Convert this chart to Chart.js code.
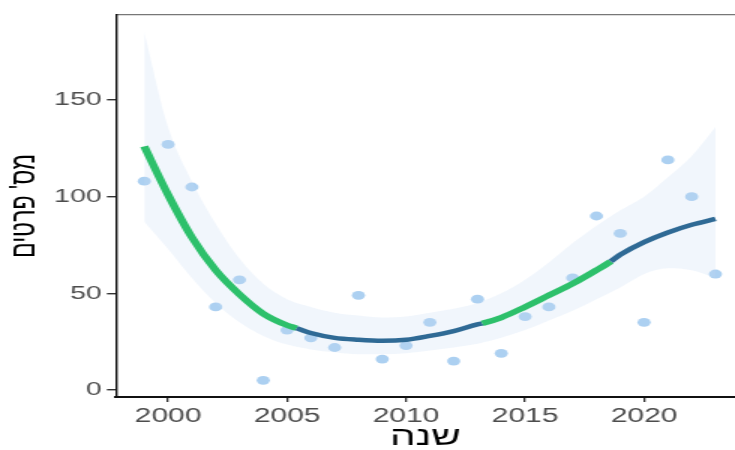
<!DOCTYPE html>
<html>
<head>
<meta charset="utf-8">
<script src="https://cdn.jsdelivr.net/npm/chart.js@4"></script>
<style>
  html, body { margin: 0; padding: 0; background: #fff; overflow: hidden; }
  #wrap { width: 490px; height: 450px; transform: scale(1.5, 1); transform-origin: 0 0; }
</style>
</head>
<body>
<div id="wrap"><canvas id="c" width="490" height="450"></canvas></div>
<script>
// ---- data ----
const years = [1999,2000,2001,2002,2003,2004,2005,2006,2007,2008,2009,2010,2011,2012,2013,2014,2015,2016,2017,2018,2019,2020,2021,2022,2023];
const counts = [108,127,105,43,57,5,31,27,22,49,16,23,35,15,47,19,38,43,58,90,81,35,119,100,60];

const fitYears  = [1999,2000,2001,2002,2003,2004,2005,2005.4,2006,2007,2008,2009,2010,2011,2012,2013,2013.2,2014,2015,2016,2017,2018,2018.6,2019,2020,2021,2022,2023];
const fitValues = [126,101,79,62,49.5,39.5,33.5,32,29.5,27,26,25.5,26,28,30.5,34,34.5,37.5,43,49,55,62,66.5,70,76.5,81.5,85.5,88.5];

const bandUpper = [185,136,108,86,68,55,47,43,40,38.5,37.5,38,40,42,45,50,57,66,76,85,93,100,110,121,136];
const bandLower = [87,73,58,45,35,28,23.5,21,19.5,18.5,18.5,19,20.5,22,24,27,31,36,41,47,53,60,63,62,58];

const segmentBreaks = [2005.4, 2013.2, 2018.6];
const segmentColors = ['#2dc06b', '#2f6a95', '#2dc06b', '#2f6a95'];
const segmentWidths = [5.5, 4.5, 5.5, 4.5];

const xTickValues = [2000, 2005, 2010, 2015, 2020];
const yTickValues = [0, 50, 100, 150];
const xTitle = 'שנה';
const yTitle = "מס' פרטים";

// ---- build chart ----
const toXY = (xs, ys) => xs.map((x, i) => ({ x: x, y: ys[i] }));
const segIndex = x => segmentBreaks.filter(b => x >= b - 1e-9).length;

const FONT = "'Liberation Sans', Arial, 'DejaVu Sans', sans-serif";
const X_MIN = 1997.81, X_MAX = 2023.82, Y_MIN = -3.6, Y_MAX = 194;

new Chart(document.getElementById('c'), {
  type: 'line',
  data: {
    datasets: [
      {
        data: toXY(fitYears, fitValues),
        order: 0,
        fill: false,
        pointRadius: 0,
        cubicInterpolationMode: 'monotone',
        borderColor: segmentColors[0],
        borderWidth: 5,
        borderCapStyle: 'butt',
        segment: {
          borderColor: ctx => segmentColors[segIndex(ctx.p0.parsed.x)],
          borderWidth: ctx => segmentWidths[segIndex(ctx.p0.parsed.x)]
        }
      },
      {
        data: toXY(years, bandUpper),
        order: 1,
        fill: '+1',
        backgroundColor: 'rgba(195,218,242,0.23)',
        borderColor: 'transparent',
        borderWidth: 0,
        pointRadius: 0,
        cubicInterpolationMode: 'monotone'
      },
      {
        data: toXY(years, bandLower),
        order: 2,
        fill: false,
        borderColor: 'transparent',
        borderWidth: 0,
        pointRadius: 0,
        cubicInterpolationMode: 'monotone'
      },
      {
        data: toXY(years, counts),
        order: 3,
        showLine: false,
        pointRadius: 4.4,
        pointBorderWidth: 0,
        pointBackgroundColor: 'rgba(140,190,235,0.72)',
        pointBorderColor: 'transparent'
      }
    ]
  },
  options: {
    responsive: false,
    animation: false,
    devicePixelRatio: 1,
    layout: { padding: 0, autoPadding: false },
    plugins: { legend: { display: false }, tooltip: { enabled: false } },
    scales: {
      x: {
        type: 'linear',
        position: 'bottom',
        min: X_MIN, max: X_MAX,
        afterBuildTicks: s => { s.ticks = xTickValues.map(v => ({ value: v })); },
        afterFit: s => { s.height = 53; },
        ticks: {
          color: '#4d4d4d',
          font: { family: FONT, size: 20 },
          padding: 2,
          maxRotation: 0,
          autoSkip: false,
          callback: v => String(v)
        },
        grid: { display: true, drawOnChartArea: false, drawTicks: true, tickLength: 5, color: '#333', lineWidth: 1.3 },
        border: { display: true, color: '#111', width: 2 },
        title: {
          display: true, text: xTitle, color: '#000',
          font: { family: FONT, size: 27, lineHeight: 0.9 },
          padding: { top: 0, bottom: 0 }
        }
      },
      x2: {
        type: 'linear',
        position: 'top',
        min: X_MIN, max: X_MAX,
        afterFit: s => { s.height = 11; },
        ticks: { display: false },
        grid: { display: false, drawTicks: false },
        border: { display: true, color: '#777', width: 1.3 }
      },
      y: {
        type: 'linear',
        position: 'left',
        min: Y_MIN, max: Y_MAX,
        afterBuildTicks: s => { s.ticks = yTickValues.map(v => ({ value: v })); },
        afterFit: s => { s.width = 77.3; },
        ticks: {
          color: '#4d4d4d',
          font: { family: FONT, size: 19 },
          padding: 3.5,
          callback: v => String(v)
        },
        grid: { display: true, drawOnChartArea: false, drawTicks: true, tickLength: 6, color: '#333', lineWidth: 1.4 },
        border: { display: true, color: '#111', width: 1.4 },
        title: {
          display: true, text: yTitle, color: '#000',
          font: { family: FONT, size: 23, lineHeight: 1.2 },
          padding: { top: 2.5, bottom: 0 }
        }
      }
    }
  }
});
</script>
</body>
</html>
